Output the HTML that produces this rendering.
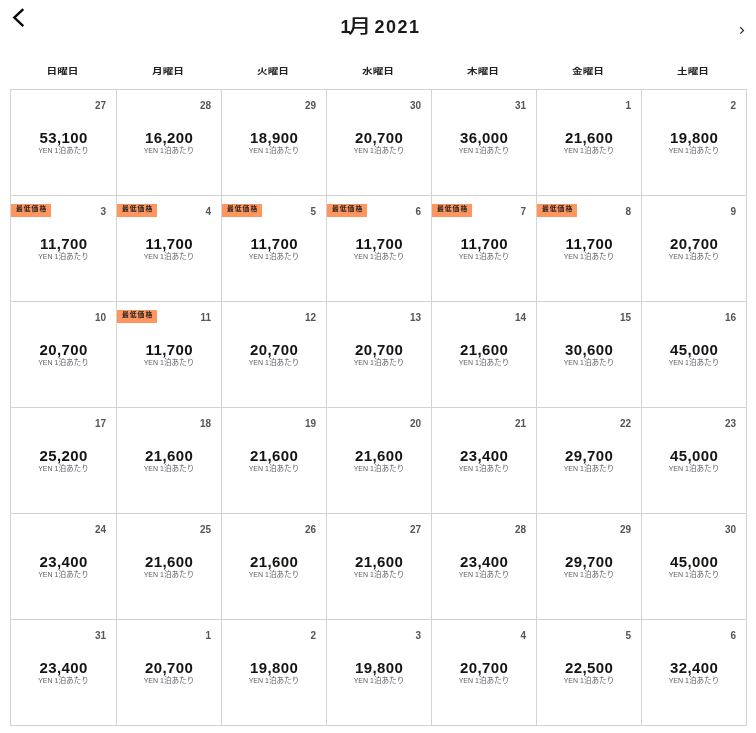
<!DOCTYPE html><html><head><meta charset="utf-8"><style>
*{margin:0;padding:0;box-sizing:border-box}
html,body{width:756px;height:733px;background:#fff;overflow:hidden}
body{position:relative;font-family:"Liberation Sans","Noto Sans CJK JP",sans-serif;color:#222}
.back{position:absolute;left:0;top:0}
.next{position:absolute;left:0;top:0}
.title{position:absolute;left:0;top:0;width:756px;height:45px;font-size:18px;font-weight:bold;line-height:24px;color:#1a1a1a}
.title span{position:absolute;top:14.7px;white-space:nowrap}
.t1{left:340.5px}
.t2{left:348px;font-weight:500;font-size:19.5px;top:13.7px!important;transform:scaleX(1.2);transform-origin:0 50%}
.t3{left:374.5px;letter-spacing:1.5px}
.wd{position:absolute;top:63.6px;font-size:10.6px;font-weight:bold;line-height:14px;text-align:center;color:#222;letter-spacing:0px;transform:scaleY(0.77);transform-origin:50% 50%}
.vl{position:absolute;top:89px;width:1px;height:637px;background:#d3d3d3}
.hl{position:absolute;left:10px;height:1px;width:737px;background:#d3d3d3}
.c{position:absolute;width:104px;height:105px}
.d{position:absolute;right:10px;top:9px;font-size:10px;font-weight:bold;line-height:14px;color:#555}
.p{position:absolute;left:0;right:0;top:37.5px;text-align:center;font-size:15px;font-weight:bold;line-height:20px;color:#141414;letter-spacing:0.4px;text-indent:0.4px}
.s{position:absolute;left:0;right:0;top:56px;text-align:center;font-size:7px;line-height:9px;color:#5c5c66;white-space:nowrap}
.s i{font-style:normal;font-size:7.6px;letter-spacing:0px}
.b{position:absolute;left:0;top:8px;width:40px;height:13px;background:#ff955f;font-size:6.8px;font-weight:bold;line-height:9.6px;color:#262626;padding-left:5px;letter-spacing:1px;white-space:nowrap}
</style></head><body>
<svg class="back" width="40" height="40" viewBox="0 0 40 40"><path d="M23.3 9.1 L14.3 17.6 L23.3 26.1" fill="none" stroke="#0a0a0a" stroke-width="2.4" stroke-linecap="butt" stroke-linejoin="miter"/></svg>
<svg class="next" width="756" height="40" viewBox="0 0 756 40" style="left:0;top:0"><path d="M740.3 27.2 L743.5 30.4 L740.3 33.6" fill="none" stroke="#333" stroke-width="1.3"/></svg>
<div class="title"><span class="t1">1</span><span class="t2">月 </span><span class="t3">2021</span></div>
<div class="wd" style="left:9px;width:107px">日曜日</div>
<div class="wd" style="left:115px;width:106px">月曜日</div>
<div class="wd" style="left:220px;width:106px">火曜日</div>
<div class="wd" style="left:325px;width:106px">水曜日</div>
<div class="wd" style="left:430px;width:106px">木曜日</div>
<div class="wd" style="left:535px;width:106px">金曜日</div>
<div class="wd" style="left:640px;width:106px">土曜日</div>
<div class="vl" style="left:10px"></div>
<div class="vl" style="left:116px"></div>
<div class="vl" style="left:221px"></div>
<div class="vl" style="left:326px"></div>
<div class="vl" style="left:431px"></div>
<div class="vl" style="left:536px"></div>
<div class="vl" style="left:641px"></div>
<div class="vl" style="left:746px"></div>
<div class="hl" style="top:89px"></div>
<div class="hl" style="top:195px"></div>
<div class="hl" style="top:301px"></div>
<div class="hl" style="top:407px"></div>
<div class="hl" style="top:513px"></div>
<div class="hl" style="top:619px"></div>
<div class="hl" style="top:725px"></div>
<div class="c" style="left:11px;top:90px;width:105px"><div class="d">27</div><div class="p">53,100</div><div class="s">YEN 1<i>泊あたり</i></div></div>
<div class="c" style="left:117px;top:90px;width:104px"><div class="d">28</div><div class="p">16,200</div><div class="s">YEN 1<i>泊あたり</i></div></div>
<div class="c" style="left:222px;top:90px;width:104px"><div class="d">29</div><div class="p">18,900</div><div class="s">YEN 1<i>泊あたり</i></div></div>
<div class="c" style="left:327px;top:90px;width:104px"><div class="d">30</div><div class="p">20,700</div><div class="s">YEN 1<i>泊あたり</i></div></div>
<div class="c" style="left:432px;top:90px;width:104px"><div class="d">31</div><div class="p">36,000</div><div class="s">YEN 1<i>泊あたり</i></div></div>
<div class="c" style="left:537px;top:90px;width:104px"><div class="d">1</div><div class="p">21,600</div><div class="s">YEN 1<i>泊あたり</i></div></div>
<div class="c" style="left:642px;top:90px;width:104px"><div class="d">2</div><div class="p">19,800</div><div class="s">YEN 1<i>泊あたり</i></div></div>
<div class="c" style="left:11px;top:196px;width:105px"><div class="b">最低価格</div><div class="d">3</div><div class="p">11,700</div><div class="s">YEN 1<i>泊あたり</i></div></div>
<div class="c" style="left:117px;top:196px;width:104px"><div class="b">最低価格</div><div class="d">4</div><div class="p">11,700</div><div class="s">YEN 1<i>泊あたり</i></div></div>
<div class="c" style="left:222px;top:196px;width:104px"><div class="b">最低価格</div><div class="d">5</div><div class="p">11,700</div><div class="s">YEN 1<i>泊あたり</i></div></div>
<div class="c" style="left:327px;top:196px;width:104px"><div class="b">最低価格</div><div class="d">6</div><div class="p">11,700</div><div class="s">YEN 1<i>泊あたり</i></div></div>
<div class="c" style="left:432px;top:196px;width:104px"><div class="b">最低価格</div><div class="d">7</div><div class="p">11,700</div><div class="s">YEN 1<i>泊あたり</i></div></div>
<div class="c" style="left:537px;top:196px;width:104px"><div class="b">最低価格</div><div class="d">8</div><div class="p">11,700</div><div class="s">YEN 1<i>泊あたり</i></div></div>
<div class="c" style="left:642px;top:196px;width:104px"><div class="d">9</div><div class="p">20,700</div><div class="s">YEN 1<i>泊あたり</i></div></div>
<div class="c" style="left:11px;top:302px;width:105px"><div class="d">10</div><div class="p">20,700</div><div class="s">YEN 1<i>泊あたり</i></div></div>
<div class="c" style="left:117px;top:302px;width:104px"><div class="b">最低価格</div><div class="d">11</div><div class="p">11,700</div><div class="s">YEN 1<i>泊あたり</i></div></div>
<div class="c" style="left:222px;top:302px;width:104px"><div class="d">12</div><div class="p">20,700</div><div class="s">YEN 1<i>泊あたり</i></div></div>
<div class="c" style="left:327px;top:302px;width:104px"><div class="d">13</div><div class="p">20,700</div><div class="s">YEN 1<i>泊あたり</i></div></div>
<div class="c" style="left:432px;top:302px;width:104px"><div class="d">14</div><div class="p">21,600</div><div class="s">YEN 1<i>泊あたり</i></div></div>
<div class="c" style="left:537px;top:302px;width:104px"><div class="d">15</div><div class="p">30,600</div><div class="s">YEN 1<i>泊あたり</i></div></div>
<div class="c" style="left:642px;top:302px;width:104px"><div class="d">16</div><div class="p">45,000</div><div class="s">YEN 1<i>泊あたり</i></div></div>
<div class="c" style="left:11px;top:408px;width:105px"><div class="d">17</div><div class="p">25,200</div><div class="s">YEN 1<i>泊あたり</i></div></div>
<div class="c" style="left:117px;top:408px;width:104px"><div class="d">18</div><div class="p">21,600</div><div class="s">YEN 1<i>泊あたり</i></div></div>
<div class="c" style="left:222px;top:408px;width:104px"><div class="d">19</div><div class="p">21,600</div><div class="s">YEN 1<i>泊あたり</i></div></div>
<div class="c" style="left:327px;top:408px;width:104px"><div class="d">20</div><div class="p">21,600</div><div class="s">YEN 1<i>泊あたり</i></div></div>
<div class="c" style="left:432px;top:408px;width:104px"><div class="d">21</div><div class="p">23,400</div><div class="s">YEN 1<i>泊あたり</i></div></div>
<div class="c" style="left:537px;top:408px;width:104px"><div class="d">22</div><div class="p">29,700</div><div class="s">YEN 1<i>泊あたり</i></div></div>
<div class="c" style="left:642px;top:408px;width:104px"><div class="d">23</div><div class="p">45,000</div><div class="s">YEN 1<i>泊あたり</i></div></div>
<div class="c" style="left:11px;top:514px;width:105px"><div class="d">24</div><div class="p">23,400</div><div class="s">YEN 1<i>泊あたり</i></div></div>
<div class="c" style="left:117px;top:514px;width:104px"><div class="d">25</div><div class="p">21,600</div><div class="s">YEN 1<i>泊あたり</i></div></div>
<div class="c" style="left:222px;top:514px;width:104px"><div class="d">26</div><div class="p">21,600</div><div class="s">YEN 1<i>泊あたり</i></div></div>
<div class="c" style="left:327px;top:514px;width:104px"><div class="d">27</div><div class="p">21,600</div><div class="s">YEN 1<i>泊あたり</i></div></div>
<div class="c" style="left:432px;top:514px;width:104px"><div class="d">28</div><div class="p">23,400</div><div class="s">YEN 1<i>泊あたり</i></div></div>
<div class="c" style="left:537px;top:514px;width:104px"><div class="d">29</div><div class="p">29,700</div><div class="s">YEN 1<i>泊あたり</i></div></div>
<div class="c" style="left:642px;top:514px;width:104px"><div class="d">30</div><div class="p">45,000</div><div class="s">YEN 1<i>泊あたり</i></div></div>
<div class="c" style="left:11px;top:620px;width:105px"><div class="d">31</div><div class="p">23,400</div><div class="s">YEN 1<i>泊あたり</i></div></div>
<div class="c" style="left:117px;top:620px;width:104px"><div class="d">1</div><div class="p">20,700</div><div class="s">YEN 1<i>泊あたり</i></div></div>
<div class="c" style="left:222px;top:620px;width:104px"><div class="d">2</div><div class="p">19,800</div><div class="s">YEN 1<i>泊あたり</i></div></div>
<div class="c" style="left:327px;top:620px;width:104px"><div class="d">3</div><div class="p">19,800</div><div class="s">YEN 1<i>泊あたり</i></div></div>
<div class="c" style="left:432px;top:620px;width:104px"><div class="d">4</div><div class="p">20,700</div><div class="s">YEN 1<i>泊あたり</i></div></div>
<div class="c" style="left:537px;top:620px;width:104px"><div class="d">5</div><div class="p">22,500</div><div class="s">YEN 1<i>泊あたり</i></div></div>
<div class="c" style="left:642px;top:620px;width:104px"><div class="d">6</div><div class="p">32,400</div><div class="s">YEN 1<i>泊あたり</i></div></div>
</body></html>
